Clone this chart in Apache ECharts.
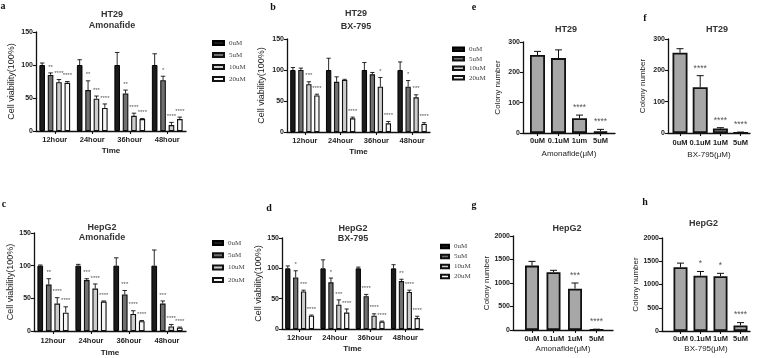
<!DOCTYPE html>
<html><head><meta charset="utf-8">
<script src="https://cdn.jsdelivr.net/npm/echarts@6/dist/echarts.min.js"></script>
<style>html,body{margin:0;padding:0;background:#fff}#c{width:762px;height:358px}</style>
</head><body><div id="c"></div>
<script>
// ---------- DATA ----------
const timeCats = ['12hour', '24hour', '36hour', '48hour'];
const doseNames = ['0uM', '5uM', '10uM', '20uM'];
const concAmonafideE = ['0uM', '0.1uM', '1um', '5uM'];
const concAmonafideG = ['0uM', '0.1uM', '1uM', '5uM'];
const concBX = ['0uM', '0.1uM', '1uM', '5uM'];
const viabTicks = [0, 50, 100, 150];
const colonyTicksHT29 = [0, 100, 200, 300];
const colonyTicksHepG2 = [0, 500, 1000, 1500, 2000];

// rows = dose (0,5,10,20 uM), columns = time (12,24,36,48 h)
const aMean = [[100, 100, 100, 100], [85, 62, 57, 77], [74, 49, 23, 9], [73, 35, 18, 18]];
const aErr  = [[3, 8, 19, 17], [3, 14, 5, 6], [4, 4, 4, 4], [2, 6, 1, 3]];
const aSig  = [['', '', '', ''], ['**', '**', '**', '*'], ['****', '***', '****', '****'], ['****', '****', '****', '****']];

const bMean = [[100, 100, 100, 100], [100, 81, 93, 73], [77, 84, 73, 56], [59, 22, 14, 13]];
const bErr  = [[4, 19, 12, 13], [3, 8, 3, 10], [4, 1, 15, 4], [2, 2, 3, 2]];
const bSig  = [['', '', '', ''], ['', '', '', '*'], ['***', '', '*', '***'], ['****', '****', '****', '****']];

const cMean = [[100, 100, 100, 100], [71, 78, 56, 42], [42, 65, 26, 7], [28, 45, 15, 5]];
const cErr  = [[1, 2, 12, 24], [9, 2, 6, 4], [9, 7, 5, 3], [9, 1, 1, 1]];
const cSig  = [['', '', '', ''], ['**', '***', '***', '***'], ['****', '****', '****', '****'], ['****', '****', '****', '****']];

const dMean = [[100, 100, 100, 100], [85, 77, 54, 79], [62, 40, 22, 61], [22, 27, 12, 18]];
const dErr  = [[4, 14, 2, 6], [11, 7, 3, 3], [2, 8, 3, 3], [1, 6, 1, 3]];
const dSig  = [['', '', '', ''], ['*', '*', '****', '**'], ['***', '***', '****', '****'], ['****', '****', '****', '****']];

const eMean = [257, 247, 49, 5];
const eErr  = [12, 27, 10, 7];
const eSig  = ['', '', '****', '****'];

const fMean = [256, 146, 14, 1];
const fErr  = [13, 37, 3, 2];
const fSig  = ['', '****', '****', '****'];

const gMean = [1370, 1230, 880, 5];
const gErr  = [90, 40, 120, 12];
const gSig  = ['', '', '***', '****'];

const hMean = [1370, 1190, 1180, 120];
const hErr  = [90, 90, 60, 60];
const hSig  = ['', '*', '*', '****'];

// ---------- STYLE / LAYOUT ----------
const SANS = 'Liberation Sans, Arial, sans-serif';
const SERIF = 'Liberation Serif, Times New Roman, serif';
const doseStyles = [
  {color: '#1b1b1b', borderColor: '#000', borderWidth: 1},
  {color: '#707070', borderColor: '#111', borderWidth: 1.1},
  {color: '#cdcdcd', borderColor: '#111', borderWidth: 1.1},
  {color: '#f7f7f7', borderColor: '#111', borderWidth: 1.1}
];
const colonyStyle = {color: '#a7a7a7', borderColor: '#111', borderWidth: 1.8};

const grids = [], xAxes = [], yAxes = [], series = [], legends = [], graphics = [];

function axisCommon() {
  return {
    axisLine: {show: true, onZero: false, lineStyle: {color: '#111', width: 1.3}},
    axisTick: {show: true, length: 3, lineStyle: {color: '#111', width: 1.1}},
    splitLine: {show: false}
  };
}

function addText(text, x, y, size, weight, family, color) {
  graphics.push({type: 'text', x: x, y: y, style: {text: text, fontSize: size, fontWeight: weight, fontFamily: family, fill: color, align: 'center', verticalAlign: 'middle'}});
}

function groupPanel(L, mean, err, sig) {
  const k = grids.length;
  grids.push(Object.assign({containLabel: false}, L.grid));
  xAxes.push(Object.assign(axisCommon(), {
    gridIndex: k, type: 'category', data: timeCats,
    axisTick: {show: true, alignWithLabel: true, length: 3, lineStyle: {color: '#111', width: 1.1}},
    axisLabel: {interval: 0, fontSize: 7.5, fontWeight: 'bold', color: '#222', fontFamily: SANS, margin: L.xLabelMargin},
    name: 'Time', nameLocation: 'middle', nameGap: L.xNameGap,
    nameTextStyle: {fontSize: 8, fontWeight: 'bold', color: '#222', fontFamily: SANS}
  }));
  yAxes.push(Object.assign(axisCommon(), {
    gridIndex: k, type: 'value', min: viabTicks[0], max: viabTicks[viabTicks.length - 1], interval: viabTicks[1] - viabTicks[0],
    axisLabel: {fontSize: 7, fontWeight: 'bold', color: '#222', fontFamily: SANS, margin: 3, formatter: v => String(v)},
    name: 'Cell viability(100%)', nameLocation: 'middle', nameGap: L.yNameGap,
    nameTextStyle: {fontSize: 9, color: '#222', fontFamily: SANS}
  }));
  doseNames.forEach((nm, d) => {
    series.push({
      type: 'bar', name: nm, xAxisIndex: k, yAxisIndex: k, data: mean[d],
      barCategoryGap: '18%', barGap: '50%', itemStyle: doseStyles[d], silent: true
    });
  });
  const recs = [];
  mean.forEach((row, d) => row.forEach((v, t) => recs.push({s: d, t: t, v: v, e: err[d][t], sig: sig[d][t]})));
  series.push({
    type: 'custom', xAxisIndex: k, yAxisIndex: k, silent: true, clip: false, z: 5,
    data: recs.map(r => [r.t, r.v]),
    encode: {x: 0, y: 1},
    renderItem: function (params, api) {
      const r = recs[params.dataIndex];
      const band = api.size([1, 0])[0];
      const bw = band * 0.82 / 5.5;
      const base = api.coord([r.t, r.v]);
      const x = base[0] + (r.s - 1.5) * bw * 1.5;
      const yt = api.coord([r.t, r.v + r.e])[1];
      const cw = bw * 0.4;
      const ch = [
        {type: 'line', shape: {x1: x, y1: base[1], x2: x, y2: yt}, style: {stroke: '#111', lineWidth: 0.9}},
        {type: 'line', shape: {x1: x - cw, y1: yt, x2: x + cw, y2: yt}, style: {stroke: '#111', lineWidth: 0.9}}
      ];
      if (r.sig) ch.push({type: 'text', style: {text: r.sig, x: x, y: yt - 3, fontSize: 6, fill: '#555', align: 'center', verticalAlign: 'bottom', fontFamily: SANS}});
      return {type: 'group', children: ch};
    }
  });
  legends.push({
    orient: 'vertical', left: L.legend.left, top: L.legend.top, itemWidth: L.legend.iw, itemHeight: L.legend.ih,
    itemGap: L.legend.gap, icon: 'rect', selectedMode: false, data: doseNames,
    textStyle: {fontFamily: SERIF, fontSize: 7, color: '#444', lineHeight: L.legend.lh}
  });
  addText(L.title[0], L.titleX, L.titleY[0], 9, 'bold', SANS, '#333');
  addText(L.title[1], L.titleX, L.titleY[1], 9, 'bold', SANS, '#333');
  addText(L.letter[0], L.letter[1], L.letter[2], 10, 'bold', SERIF, '#111');
}

function colonyPanel(L, cats, ticks, mean, err, sig) {
  const k = grids.length;
  grids.push(Object.assign({containLabel: false}, L.grid));
  const idx = cats.map((c, i) => i);
  xAxes.push(Object.assign(axisCommon(), {
    gridIndex: k, type: 'value', min: L.xMin, max: L.xMax,
    axisTick: {show: true, length: 3, customValues: idx, lineStyle: {color: '#111', width: 1.1}},
    axisLabel: {customValues: idx, formatter: v => cats[Math.round(v)], fontSize: 7.5, fontWeight: 'bold', color: '#222', fontFamily: SANS, margin: L.xLabelMargin},
    name: L.xName, nameLocation: 'middle', nameGap: L.xNameGap,
    nameTextStyle: {fontSize: 8, color: '#222', fontFamily: SANS}
  }));
  yAxes.push(Object.assign(axisCommon(), {
    gridIndex: k, type: 'value', min: ticks[0], max: ticks[ticks.length - 1], interval: ticks[1] - ticks[0],
    axisLabel: {fontSize: 7, fontWeight: 'bold', color: '#222', fontFamily: SANS, margin: 3, formatter: v => String(v)},
    name: 'Colony number', nameLocation: 'middle', nameGap: L.yNameGap,
    nameTextStyle: {fontSize: 8, color: '#222', fontFamily: SANS}
  }));
  series.push({
    type: 'bar', xAxisIndex: k, yAxisIndex: k, data: mean.map((v, i) => [i, v]),
    barWidth: L.barWidth, itemStyle: colonyStyle, silent: true
  });
  series.push({
    type: 'custom', xAxisIndex: k, yAxisIndex: k, silent: true, clip: false, z: 5,
    data: mean.map((v, i) => [i, v]), encode: {x: 0, y: 1},
    renderItem: function (params, api) {
      const i = params.dataIndex;
      const base = api.coord([i, mean[i]]);
      const yt = api.coord([i, mean[i] + err[i]])[1];
      const x = base[0], cw = 3.5;
      const ch = [
        {type: 'line', shape: {x1: x, y1: base[1], x2: x, y2: yt}, style: {stroke: '#111', lineWidth: 1}},
        {type: 'line', shape: {x1: x - cw, y1: yt, x2: x + cw, y2: yt}, style: {stroke: '#111', lineWidth: 1}}
      ];
      if (sig[i]) ch.push({type: 'text', style: {text: sig[i], x: x, y: yt - 3, fontSize: 8.5, fill: '#555', align: 'center', verticalAlign: 'bottom', fontFamily: SANS}});
      return {type: 'group', children: ch};
    }
  });
  addText(L.title, L.titleX, L.titleY, 9, 'bold', SANS, '#333');
  addText(L.letter[0], L.letter[1], L.letter[2], 10, 'bold', SERIF, '#111');
}

groupPanel({grid: {left: 36, top: 32, width: 150, height: 99}, xLabelMargin: 5, xNameGap: 16, yNameGap: 19.5,
  title: ['HT29', 'Amonafide'], titleX: 112, titleY: [15, 25.5], letter: ['a', 3, 6],
  legend: {left: 207, top: 33, iw: 11, ih: 4, lh: 10, gap: 2}}, aMean, aErr, aSig);
groupPanel({grid: {left: 287, top: 39, width: 143, height: 93}, xLabelMargin: 5, xNameGap: 16, yNameGap: 20.5,
  title: ['HT29', 'BX-795'], titleX: 356, titleY: [13.7, 26.3], letter: ['b', 273, 7],
  legend: {left: 447, top: 39.8, iw: 11, ih: 3.5, lh: 9, gap: 0.5}}, bMean, bErr, bSig);
groupPanel({grid: {left: 34, top: 233, width: 152, height: 98}, xLabelMargin: 6, xNameGap: 18, yNameGap: 17.5,
  title: ['HepG2', 'Amonafide'], titleX: 102, titleY: [227.5, 237.5], letter: ['c', 4, 204],
  legend: {left: 207, top: 233, iw: 10, ih: 4, lh: 10, gap: 2.3}}, cMean, cErr, cSig);
groupPanel({grid: {left: 282, top: 238, width: 141, height: 91}, xLabelMargin: 5, xNameGap: 15.5, yNameGap: 15.5,
  title: ['HepG2', 'BX-795'], titleX: 353, titleY: [229, 238.5], letter: ['d', 269, 208],
  legend: {left: 435, top: 237, iw: 8, ih: 3.5, lh: 9, gap: 1}}, dMean, dErr, dSig);

colonyPanel({grid: {left: 523, top: 42, width: 92, height: 91}, xMin: -0.69, xMax: 3.69, barWidth: 15,
  xLabelMargin: 4, xName: 'Amonafide(μM)', xNameGap: 16.5, yNameGap: 21.5,
  title: 'HT29', titleX: 566, titleY: 29.5, letter: ['e', 474, 7]}, concAmonafideE, colonyTicksHT29, eMean, eErr, eSig);
colonyPanel({grid: {left: 668, top: 39, width: 82, height: 94}, xMin: -0.594, xMax: 3.465, barWidth: 15,
  xLabelMargin: 6, xName: 'BX-795(μM)', xNameGap: 17.5, yNameGap: 21.5,
  title: 'HT29', titleX: 717, titleY: 30, letter: ['f', 645, 18]}, concBX, colonyTicksHT29, fMean, fErr, fSig);
colonyPanel({grid: {left: 513, top: 236, width: 100, height: 94}, xMin: -0.884, xMax: 3.767, barWidth: 14,
  xLabelMargin: 5, xName: 'Amonafide(μM)', xNameGap: 14.5, yNameGap: 18.5,
  title: 'HepG2', titleX: 567, titleY: 229, letter: ['g', 474, 205]}, concAmonafideG, colonyTicksHepG2, gMean, gErr, gSig);
colonyPanel({grid: {left: 662, top: 238, width: 88, height: 93}, xMin: -0.925, xMax: 3.475, barWidth: 14,
  xLabelMargin: 4, xName: 'BX-795(μM)', xNameGap: 13.5, yNameGap: 18.5,
  title: 'HepG2', titleX: 703.5, titleY: 224, letter: ['h', 645, 202]}, concBX, colonyTicksHepG2, hMean, hErr, hSig);

const chart = echarts.init(document.getElementById('c'), null, {renderer: 'canvas'});
chart.setOption({
  backgroundColor: '#fff',
  animation: false,
  grid: grids, xAxis: xAxes, yAxis: yAxes, series: series, legend: legends,
  graphic: {elements: graphics}
});
</script>
</body></html>
